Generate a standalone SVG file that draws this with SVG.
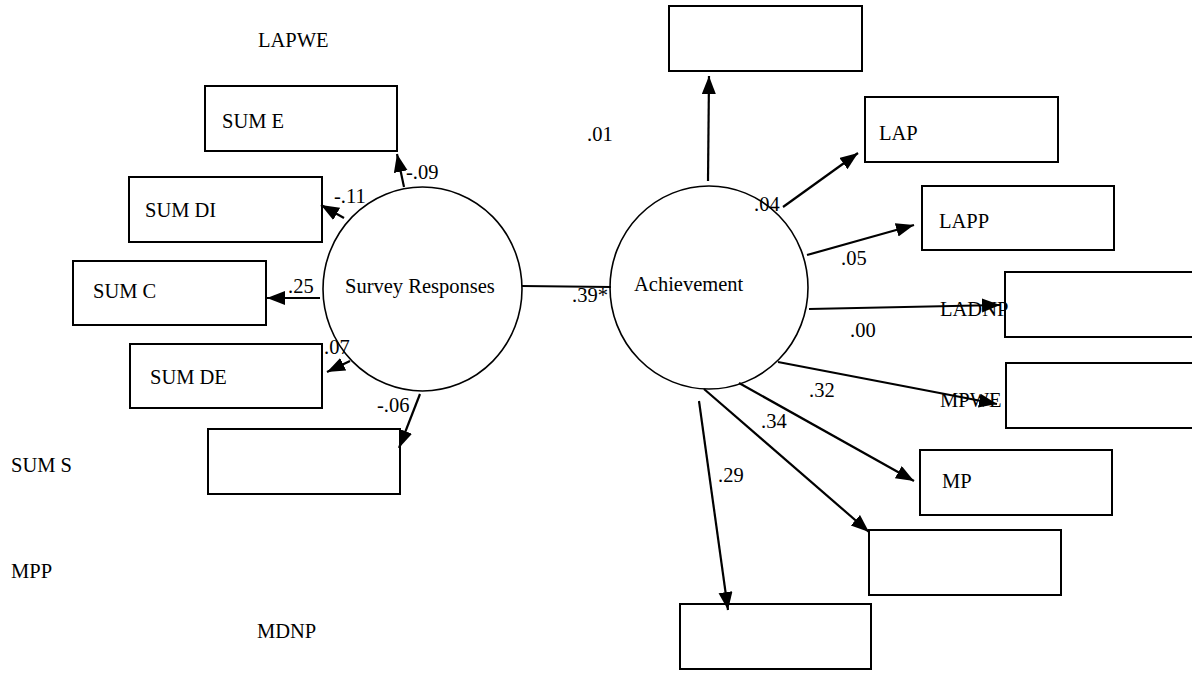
<svg xmlns="http://www.w3.org/2000/svg" width="1192" height="675" viewBox="0 0 1192 675">
<defs>
<marker id="ah" markerUnits="userSpaceOnUse" markerWidth="20" markerHeight="16" refX="18" refY="7" orient="auto">
<path d="M0,0 L18,7 L0,14 z" fill="#000"/>
</marker>
<style>
.box{fill:#fff;stroke:#000;stroke-width:2}
.lat{fill:#fff;stroke:#000;stroke-width:1.6}
text{font-family:'Liberation Serif','DejaVu Serif','Times New Roman',serif;font-size:20.5px;fill:#000}
.c{stroke:#000;stroke-width:2.2;fill:none}
.a{stroke:#000;stroke-width:2.2;fill:none;marker-end:url(#ah)}
</style>
</defs>
<rect width="1192" height="675" fill="#fff"/>
<g id="sum-e"><rect class="box" x="205" y="86" width="192" height="65"/><text x="222" y="128">SUM E</text></g>
<g id="sum-di"><rect class="box" x="129" y="177" width="193" height="65"/><text x="145" y="217">SUM DI</text></g>
<g id="sum-c"><rect class="box" x="73" y="261" width="193" height="64"/><text x="93" y="298">SUM C</text></g>
<g id="sum-de"><rect class="box" x="130" y="344" width="192" height="64"/><text x="150" y="384">SUM DE</text></g>
<g id="sum-s"><rect class="box" x="208" y="429" width="192" height="65"/></g>
<g id="lapwe"><rect class="box" x="669" y="6" width="193" height="65"/></g>
<g id="lap"><rect class="box" x="865" y="97" width="193" height="65"/><text x="879" y="140">LAP</text></g>
<g id="lapp"><rect class="box" x="922" y="186" width="192" height="64"/><text x="939" y="228">LAPP</text></g>
<g id="ladnp"><rect class="box" x="1005" y="272" width="192" height="65"/></g>
<g id="mpwe"><rect class="box" x="1006" y="363" width="192" height="65"/></g>
<g id="mp"><rect class="box" x="920" y="450" width="192" height="65"/><text x="942" y="488">MP</text></g>
<g id="mpp"><rect class="box" x="869" y="530" width="192" height="65"/></g>
<g id="mdnp"><rect class="box" x="680" y="604" width="191" height="65"/></g>
<g id="survey"><ellipse class="lat" cx="422.5" cy="289" rx="99.5" ry="102"/><text x="345" y="293">Survey Responses</text></g>
<g id="achievement"><ellipse class="lat" cx="709" cy="287.5" rx="99" ry="101.5"/><text x="634" y="291">Achievement</text></g>
<g id="free-labels">
<text x="258" y="47">LAPWE</text>
<text x="11" y="472">SUM S</text>
<text x="11" y="578">MPP</text>
<text x="257" y="638">MDNP</text>
<text x="587" y="141">.01</text>
<text x="940" y="316">LADNP</text>
<text x="940" y="407">MPWE</text>
</g>
<g id="connectors">
<line class="c" x1="522" y1="286" x2="611" y2="287"/>
<line class="a" x1="404" y1="187" x2="397" y2="154"/>
<line class="a" x1="344" y1="218" x2="321" y2="205"/>
<line class="a" x1="320" y1="298" x2="267" y2="298"/>
<line class="a" x1="350" y1="361" x2="327" y2="372"/>
<line class="a" x1="420" y1="394" x2="399" y2="448"/>
<line class="a" x1="708" y1="181" x2="709" y2="76"/>
<line class="a" x1="783" y1="207" x2="858" y2="153"/>
<line class="a" x1="807" y1="255" x2="914" y2="225"/>
<line class="a" x1="809" y1="309" x2="1000" y2="305"/>
<line class="a" x1="778" y1="362" x2="997" y2="404"/>
<line class="a" x1="739" y1="383" x2="914" y2="481"/>
<line class="a" x1="704" y1="389" x2="869" y2="532"/>
<line class="a" x1="699" y1="401" x2="728" y2="610"/>
</g>
<g id="edge-labels">
<text x="406" y="179">-.09</text>
<text x="334" y="203">-.11</text>
<text x="288" y="293">.25</text>
<text x="324" y="354">.07</text>
<text x="377" y="412">-.06</text>
<text x="572" y="302">.39*</text>
<text x="754" y="211">.04</text>
<text x="841" y="265">.05</text>
<text x="850" y="337">.00</text>
<text x="809" y="397">.32</text>
<text x="761" y="428">.34</text>
<text x="718" y="482">.29</text>
</g>
</svg>
